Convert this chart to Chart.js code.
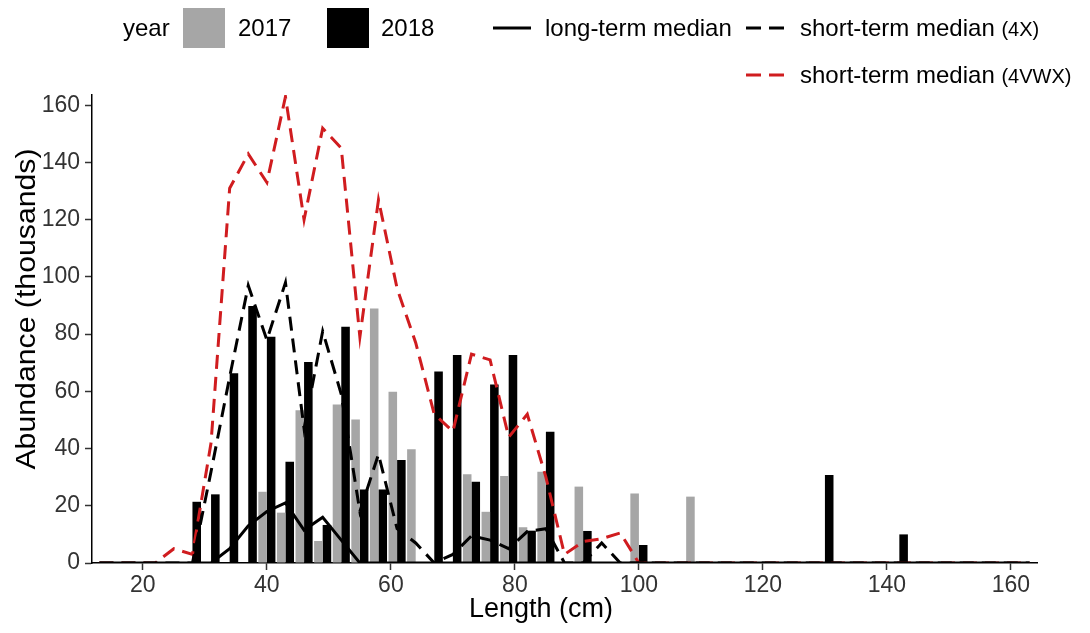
<!DOCTYPE html>
<html>
<head>
<meta charset="utf-8">
<script src="https://cdn.jsdelivr.net/npm/chart.js@4"></script>
<style>
body { margin: 0; background: #fff; }
#wrap { position: relative; width: 1090px; height: 633px; font-family: "Liberation Sans", Arial, sans-serif; color: #000; }
#chart { position: absolute; left: 0; top: 0; }
.lg { position: absolute; font-size: 24px; line-height: 40px; white-space: nowrap; }
.box { position: absolute; width: 42px; height: 40px; }
.key { position: absolute; }
.small { font-size: 20px; }
.title { position: absolute; font-size: 27px; line-height: 32px; white-space: nowrap; }
#xtitle { left: 441px; top: 592px; width: 200px; text-align: center; }
#ytitle { left: 26px; top: 309px; width: 400px; margin-left: -200px; margin-top: -16px; text-align: center; transform: rotate(-90deg) scaleX(1.12); }
</style>
</head>
<body>
<div id="wrap">
  <canvas id="chart" width="1090" height="633"></canvas>

  <div class="lg" style="left:123px; top:8px;">year</div>
  <div class="box" style="left:183px; top:8px; background:#a6a6a6;"></div>
  <div class="lg" style="left:238px; top:8px;">2017</div>
  <div class="box" style="left:327px; top:8px; background:#000;"></div>
  <div class="lg" style="left:381px; top:8px;">2018</div>

  <svg class="key" style="left:493px; top:25px;" width="38" height="6"><line x1="0" y1="3" x2="38" y2="3" stroke="#000" stroke-width="3"/></svg>
  <div class="lg" style="left:545px; top:8px;">long-term median</div>
  <svg class="key" style="left:746px; top:25px;" width="38" height="6"><line x1="0" y1="3" x2="38" y2="3" stroke="#000" stroke-width="3" stroke-dasharray="15 8"/></svg>
  <div class="lg" style="left:800px; top:8px;">short-term median <span class="small">(4X)</span></div>

  <svg class="key" style="left:746px; top:72px;" width="38" height="6"><line x1="0" y1="3" x2="38" y2="3" stroke="#d01c1f" stroke-width="3" stroke-dasharray="15 8"/></svg>
  <div class="lg" style="left:800px; top:55px;">short-term median <span class="small">(4VWX)</span></div>

  <div class="title" id="xtitle">Length (cm)</div>
  <div class="title" id="ytitle">Abundance (thousands)</div>
</div>

<script>
'use strict';

// length bins (cm) for the bars
var barLengths = [28, 31, 34, 37, 40, 43, 46, 49, 52, 55, 58, 61, 64, 67, 70, 73, 76, 79, 82, 85, 88, 91, 94, 97, 100, 109, 130, 142];
var abund2017 = [0, 0, 0, 0, 24.9, 17.6, 53.4, 7.7, 55.4, 50.2, 89.0, 59.9, 39.8, 0, 0, 31.0, 17.9, 30.4, 12.5, 31.9, 0, 26.7, 0, 0, 24.3, 23.2, 0, 0];
var abund2018 = [21.4, 24.0, 66.3, 89.8, 79.1, 35.4, 70.3, 13.3, 82.6, 25.7, 25.7, 36.0, 0, 66.9, 72.7, 28.4, 62.4, 72.7, 11.3, 45.9, 0, 11.2, 0, 0, 6.3, 0, 30.8, 10.0];

// length points for the median lines
var lineLengths = [13, 16, 19, 22, 25, 28, 31, 34, 37, 40, 43, 46, 49, 52, 55, 58, 61, 64, 67, 70,
    73, 76, 79, 82, 85, 88, 91, 94, 97, 100, 103, 106, 109, 112, 115, 118, 121, 124, 127, 130,
    133, 136, 139, 142, 145, 148, 151, 154, 157, 160, 163];
var longTerm = [0, 0, 0, 0, 0, 0, 0, 5, 13, 18, 21, 11.5, 16, 8, 0, 0, 0, 0, 0, 0,
    0, 0, 0, 0, 0, 0, 0, 0, 0, 0, 0, 0, 0, 0, 0, 0, 0, 0, 0, 0,
    0, 0, 0, 0, 0, 0, 0, 0, 0, 0, 0];
var short4X = [0, 0, 0, 0, 0, 0, 32, 65, 97, 78, 98, 47, 81, 59, 18, 38, 12, 7, 0, 3,
    9.5, 8, 5, 11, 12, 0, 0, 7, 0, 0, 0, 0, 0, 0, 0, 0, 0, 0, 0, 0,
    0, 0, 0, 0, 0, 0, 0, 0, 0, 0, 0];
var short4VWX = [0, 0, 0, 0, 5, 3, 42, 131, 143, 133, 163, 120, 152, 145, 79, 127, 96, 77, 52, 46,
    73, 71, 44, 52, 30, 3, 7.5, 8.5, 10.5, 0, 0, 0, 0, 0, 0, 0, 0, 0, 0, 0,
    0, 0, 0, 0, 0, 0, 0, 0, 0, 0, 0];

var xTicks = [20, 40, 60, 80, 100, 120, 140, 160];
var yTicks = [0, 20, 40, 60, 80, 100, 120, 140, 160];

function pairs(xs, ys) {
    var out = [];
    for (var i = 0; i < xs.length; i++) {
        out.push({ x: xs[i], y: ys[i] });
    }
    return out;
}

var tickFont = { family: '"Liberation Sans", Arial, sans-serif', size: 23 };

var ctx = document.getElementById('chart').getContext('2d');

var chart = new Chart(ctx, {
    type: 'bar',
    data: {
        datasets: [{
            type: 'line',
            label: 'long-term median',
            data: pairs(lineLengths, longTerm),
            borderColor: '#000',
            borderWidth: 3,
            pointRadius: 0,
            tension: 0,
            order: 1
        }, {
            type: 'line',
            label: 'short-term median (4X)',
            data: pairs(lineLengths, short4X),
            borderColor: '#000',
            borderWidth: 3,
            borderDash: [14, 8],
            pointRadius: 0,
            tension: 0,
            order: 1
        }, {
            type: 'line',
            label: 'short-term median (4VWX)',
            data: pairs(lineLengths, short4VWX),
            borderColor: '#d01c1f',
            borderWidth: 3,
            borderDash: [14, 8],
            pointRadius: 0,
            tension: 0,
            order: 1
        }, {
            type: 'bar',
            label: '2017',
            data: pairs(barLengths, abund2017),
            backgroundColor: '#a6a6a6',
            borderWidth: 0,
            categoryPercentage: 0.92,
            barPercentage: 1.0,
            order: 2
        }, {
            type: 'bar',
            label: '2018',
            data: pairs(barLengths, abund2018),
            backgroundColor: '#000',
            borderWidth: 0,
            categoryPercentage: 0.92,
            barPercentage: 1.0,
            order: 2
        }]
    },
    options: {
        responsive: false,
        animation: false,
        devicePixelRatio: 1,
        layout: { padding: { top: 95, right: 53, left: 0, bottom: 0 } },
        plugins: {
            legend: { display: false },
            tooltip: { enabled: false }
        },
        scales: {
            x: {
                type: 'linear',
                offset: false,
                min: 11.8,
                max: 164.2,
                afterBuildTicks: function(s) {
                    s.ticks = xTicks.map(function(v) { return { value: v }; });
                },
                afterFit: function(s) { s.height = 70; },
                grid: { display: true, drawOnChartArea: false, drawTicks: true, tickLength: 7, tickColor: '#333', tickWidth: 1.5, offset: false },
                border: { display: true, color: '#000', width: 1.5 },
                ticks: { font: tickFont, color: '#333', padding: 2, maxRotation: 0 },
                title: { display: false }
            },
            y: {
                min: 0,
                max: 163.6,
                afterBuildTicks: function(s) {
                    s.ticks = yTicks.map(function(v) { return { value: v }; });
                },
                afterFit: function(s) { s.width = 92; },
                grid: { display: true, drawOnChartArea: false, drawTicks: true, tickLength: 7, tickColor: '#333', tickWidth: 1.5 },
                border: { display: true, color: '#000', width: 1.5 },
                ticks: { font: tickFont, color: '#333', padding: 5 },
                title: { display: false }
            }
        }
    }
});
</script>
</body>
</html>
